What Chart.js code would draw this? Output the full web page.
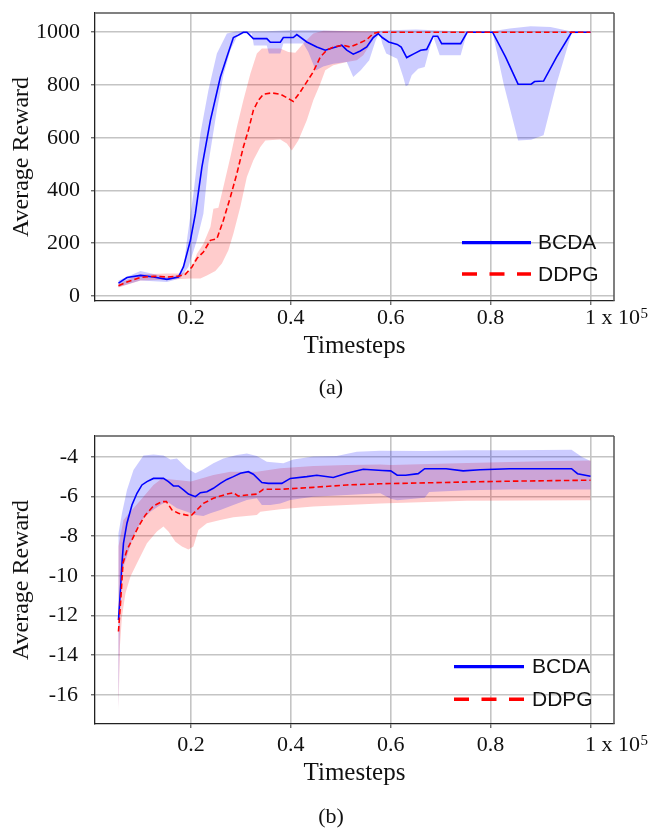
<!DOCTYPE html>
<html>
<head>
<meta charset="utf-8">
<script src="https://cdn.jsdelivr.net/npm/chart.js@4.4.0/dist/chart.umd.min.js"></script>
<style>
  body { margin: 0; background: #fff; width: 666px; height: 832px; position: relative; overflow: hidden; }
  canvas { position: absolute; left: 0; }
  .cap { position: absolute; left: 0; width: 662px; text-align: center; font: 22px "Liberation Serif"; line-height: 24px; color: #111; }
</style>
</head>
<body>
<canvas id="chartA" width="666" height="416" style="top:0"></canvas>
<canvas id="chartB" width="666" height="416" style="top:416px"></canvas>
<div class="cap" style="top:375px">(a)</div>
<div class="cap" style="top:804px">(b)</div>
<script>
// Axis ticks (timesteps in units of 1e5)
const xTicks = [0.2, 0.4, 0.6, 0.8, 1.0];
const yTicksA = [0, 200, 400, 600, 800, 1000];
const yTicksB = [-16, -14, -12, -10, -8, -6, -4];

// (a) BCDA mean and band, [timestep, reward]
const bcdaMeanA = [[0.055,49],[0.072,70],[0.099,78],[0.125,72],[0.152,63],[0.175,72],[0.185,110],[0.199,211],[0.209,312],[0.222,489],[0.239,666],[0.259,830],[0.272,906],[0.285,980],[0.295,989],[0.305,1000],[0.312,1000],[0.325,976],[0.352,976],[0.359,962],[0.379,962],[0.385,980],[0.405,980],[0.412,991],[0.432,963],[0.452,944],[0.469,932],[0.485,941],[0.502,951],[0.512,932],[0.525,917],[0.539,929],[0.552,944],[0.565,980],[0.575,995],[0.583,980],[0.596,963],[0.613,954],[0.621,944],[0.632,904],[0.647,919],[0.66,932],[0.672,935],[0.685,985],[0.694,985],[0.702,957],[0.74,957],[0.753,1000],[0.804,1000],[0.83,906],[0.855,803],[0.881,803],[0.888,813],[0.906,815],[0.932,906],[0.962,1000],[1.0,1000]];
const bcdaUpperA = [[0.055,59],[0.099,95],[0.152,72],[0.175,80],[0.185,100],[0.192,211],[0.205,388],[0.219,616],[0.235,780],[0.252,919],[0.272,995],[0.29,1003],[0.35,1004],[0.4,1008],[0.45,1008],[0.5,1005],[0.55,1003],[0.6,1008],[0.65,1010],[0.7,1007],[0.75,1003],[0.8,1003],[0.838,1014],[0.88,1023],[0.92,1020],[0.962,1003],[1.0,1000]];
const bcdaLowerA = [[0.055,34],[0.099,59],[0.152,53],[0.178,66],[0.195,110],[0.212,211],[0.225,312],[0.235,502],[0.252,704],[0.265,837],[0.279,932],[0.292,982],[0.305,995],[0.322,995],[0.326,950],[0.352,950],[0.356,919],[0.379,919],[0.385,957],[0.425,957],[0.435,925],[0.45,855],[0.465,870],[0.485,881],[0.512,887],[0.525,830],[0.54,856],[0.557,894],[0.57,970],[0.578,1000],[0.583,957],[0.591,919],[0.613,900],[0.625,830],[0.63,795],[0.635,800],[0.642,837],[0.655,862],[0.668,868],[0.677,932],[0.685,985],[0.698,913],[0.74,913],[0.753,1000],[0.804,1000],[0.826,805],[0.855,590],[0.881,592],[0.906,609],[0.932,805],[0.962,995],[1.0,1000]];

// (a) DDPG mean and band
const ddpgMeanA = [[0.055,39],[0.072,53],[0.099,70],[0.125,75],[0.152,72],[0.175,75],[0.189,82],[0.202,110],[0.212,142],[0.225,167],[0.239,211],[0.252,217],[0.265,287],[0.279,375],[0.292,464],[0.305,565],[0.315,628],[0.325,704],[0.335,742],[0.345,765],[0.362,770],[0.379,765],[0.389,755],[0.405,738],[0.419,774],[0.432,812],[0.445,850],[0.459,906],[0.472,932],[0.485,944],[0.505,951],[0.519,944],[0.539,960],[0.552,972],[0.565,995],[0.575,1000],[1.0,1000]];
const ddpgUpperA = [[0.055,47],[0.099,82],[0.152,85],[0.18,85],[0.199,97],[0.212,160],[0.225,198],[0.239,262],[0.245,331],[0.255,335],[0.265,413],[0.279,527],[0.292,641],[0.305,742],[0.319,843],[0.332,919],[0.342,938],[0.379,938],[0.395,925],[0.409,922],[0.425,957],[0.445,995],[0.465,1006],[0.55,1005],[0.58,1000],[1.0,1000]];
const ddpgLowerA = [[0.055,32],[0.099,59],[0.152,62],[0.199,66],[0.219,66],[0.232,78],[0.249,95],[0.262,123],[0.275,173],[0.285,236],[0.299,338],[0.312,451],[0.325,515],[0.339,565],[0.349,590],[0.379,593],[0.392,578],[0.402,552],[0.415,590],[0.432,666],[0.445,742],[0.459,805],[0.469,856],[0.485,875],[0.512,887],[0.532,894],[0.545,913],[0.56,957],[0.572,995],[0.58,1000],[1.0,1000]];

// (b) BCDA mean and band
const bcdaMeanB = [[0.055,-12.22],[0.059,-10.7],[0.062,-9.36],[0.065,-8.35],[0.072,-7.34],[0.082,-6.42],[0.092,-5.83],[0.102,-5.41],[0.112,-5.24],[0.125,-5.08],[0.145,-5.08],[0.155,-5.24],[0.165,-5.46],[0.175,-5.46],[0.185,-5.66],[0.195,-5.87],[0.209,-6.0],[0.219,-5.8],[0.232,-5.75],[0.245,-5.58],[0.259,-5.33],[0.272,-5.13],[0.285,-4.99],[0.299,-4.82],[0.315,-4.74],[0.325,-4.87],[0.342,-5.29],[0.355,-5.33],[0.382,-5.33],[0.399,-5.08],[0.432,-4.99],[0.452,-4.92],[0.485,-5.03],[0.512,-4.82],[0.545,-4.62],[0.583,-4.68],[0.6,-4.7],[0.613,-4.92],[0.63,-4.92],[0.655,-4.84],[0.668,-4.59],[0.711,-4.59],[0.745,-4.7],[0.779,-4.64],[0.838,-4.59],[0.962,-4.59],[0.974,-4.84],[1.0,-4.97]];
const bcdaUpperB = [[0.055,-7.85],[0.062,-6.84],[0.072,-5.66],[0.085,-4.66],[0.105,-3.93],[0.125,-3.87],[0.145,-3.92],[0.159,-4.12],[0.172,-4.07],[0.192,-4.57],[0.209,-4.82],[0.225,-4.62],[0.245,-4.32],[0.265,-4.07],[0.292,-3.9],[0.312,-3.82],[0.332,-3.95],[0.352,-4.24],[0.385,-4.32],[0.405,-4.12],[0.445,-3.98],[0.492,-3.95],[0.532,-3.73],[0.579,-3.68],[0.668,-3.7],[0.753,-3.66],[0.838,-3.66],[0.962,-3.63],[0.983,-4.0],[1.0,-4.2]];
const bcdaLowerB = [[0.055,-16.7],[0.0575,-13.0],[0.059,-10.0],[0.072,-9.0],[0.085,-8.0],[0.102,-7.18],[0.119,-6.76],[0.139,-6.42],[0.152,-6.25],[0.172,-6.59],[0.192,-6.76],[0.209,-6.92],[0.225,-6.97],[0.239,-6.84],[0.259,-6.67],[0.285,-6.42],[0.312,-6.17],[0.332,-6.08],[0.342,-6.42],[0.359,-6.42],[0.379,-6.34],[0.399,-6.17],[0.445,-6.0],[0.512,-5.92],[0.579,-5.83],[0.6,-6.1],[0.613,-6.18],[0.668,-6.05],[0.677,-5.76],[0.753,-5.68],[0.838,-5.64],[1.0,-5.64]];

// (b) DDPG mean and band
const ddpgMeanB = [[0.055,-12.8],[0.06,-11.04],[0.064,-9.36],[0.072,-8.69],[0.082,-8.18],[0.095,-7.51],[0.109,-6.92],[0.125,-6.47],[0.142,-6.25],[0.151,-6.25],[0.162,-6.67],[0.175,-6.84],[0.189,-6.92],[0.2,-6.97],[0.212,-6.67],[0.225,-6.34],[0.245,-6.08],[0.272,-5.87],[0.285,-5.8],[0.295,-5.97],[0.312,-5.92],[0.332,-5.87],[0.345,-5.63],[0.379,-5.63],[0.445,-5.53],[0.512,-5.41],[0.579,-5.35],[0.6,-5.34],[0.753,-5.26],[0.838,-5.22],[1.0,-5.17]];
const ddpgUpperB = [[0.055,-8.5],[0.065,-7.18],[0.085,-6.59],[0.105,-6.0],[0.125,-5.41],[0.142,-5.08],[0.172,-5.16],[0.2,-5.24],[0.245,-4.91],[0.279,-4.74],[0.332,-4.74],[0.379,-4.57],[0.445,-4.45],[0.512,-4.4],[0.579,-4.38],[0.6,-4.4],[0.753,-4.3],[0.923,-4.2],[1.0,-4.17]];
const ddpgLowerB = [[0.055,-16.8],[0.058,-13.5],[0.062,-12.05],[0.069,-10.87],[0.079,-10.03],[0.092,-9.36],[0.112,-8.35],[0.132,-7.76],[0.145,-7.51],[0.155,-7.76],[0.169,-8.27],[0.182,-8.52],[0.195,-8.66],[0.205,-8.52],[0.215,-7.68],[0.232,-7.34],[0.259,-7.18],[0.285,-7.04],[0.332,-6.92],[0.339,-6.76],[0.379,-6.64],[0.445,-6.5],[0.512,-6.42],[0.579,-6.34],[0.753,-6.21],[1.0,-6.18]];

const SERIF = '"Liberation Serif", "Times New Roman", serif';
const SANS = '"Liberation Sans", Arial, sans-serif';

function toPts(pairs) {
  return pairs.map(p => ({ x: p[0], y: p[1] }));
}

// closed outline: upper edge left to right, lower edge back
function bandShape(upper, lower) {
  return toPts(upper).concat(toPts(lower).reverse());
}

// top and right sides of the frame
const frameLines = {
  id: 'frameLines',
  afterDatasetsDraw(chart) {
    const { ctx, chartArea: a } = chart;
    ctx.save();
    ctx.strokeStyle = '#808080';
    ctx.lineWidth = 2;
    ctx.beginPath(); ctx.moveTo(a.left, a.top); ctx.lineTo(a.right, a.top); ctx.stroke();
    ctx.strokeStyle = '#555';
    ctx.lineWidth = 1.5;
    ctx.beginPath(); ctx.moveTo(a.right, a.top); ctx.lineTo(a.right, a.bottom); ctx.stroke();
    ctx.restore();
  }
};

// legend drawn inside the plot, no box
const innerLegend = {
  id: 'innerLegend',
  afterDraw(chart, args, opts) {
    const { ctx, chartArea: a } = chart;
    const rows = [
      { text: 'BCDA', color: '#0000ff', dash: [], width: 3.3 },
      { text: 'DDPG', color: '#ff0000', dash: [15, 12.5], width: 3.6 }
    ];
    ctx.save();
    ctx.font = '21px ' + SANS;
    ctx.textBaseline = 'middle';
    ctx.textAlign = 'left';
    rows.forEach((r, i) => {
      const y = a.bottom - opts.rows[i];
      ctx.strokeStyle = r.color;
      ctx.lineWidth = r.width;
      ctx.setLineDash(r.dash);
      ctx.beginPath();
      ctx.moveTo(a.right - opts.x0, y);
      ctx.lineTo(a.right - opts.x1, y);
      ctx.stroke();
      ctx.fillStyle = '#111';
      ctx.fillText(r.text, a.right - opts.tx, y + 1);
    });
    ctx.restore();
  }
};

// "x 10^5" after the last tick label
const xExponent = {
  id: 'xExponent',
  afterDraw(chart, args, opts) {
    const s = chart.scales.x;
    const ctx = chart.ctx;
    const px = s.getPixelForValue(1);
    const y = s.top + 4 + opts.pad + 22 * 1.2 / 2;
    ctx.save();
    ctx.fillStyle = '#111';
    ctx.textBaseline = 'middle';
    ctx.textAlign = 'left';
    ctx.font = '22px ' + SERIF;
    const x0 = px + ctx.measureText('1').width / 2;
    ctx.fillText(' x 10', x0, y);
    const x1 = x0 + ctx.measureText(' x 10').width + 0.5;
    ctx.font = '15px ' + SERIF;
    ctx.fillText('5', x1, y - 4);
    ctx.restore();
  }
};

function makeChart(id, cfg) {
  return new Chart(document.getElementById(id), {
    type: 'line',
    data: {
      datasets: [
        { data: toPts(cfg.ddpgMean), borderColor: '#ff0000', borderWidth: 1.6, borderDash: [5.5, 3], pointRadius: 0, fill: false },
        { data: toPts(cfg.bcdaMean), borderColor: '#0000ff', borderWidth: 1.6, pointRadius: 0, fill: false },
        { data: bandShape(cfg.bcdaUpper, cfg.bcdaLower), backgroundColor: 'rgba(0,0,255,0.2)', borderWidth: 0, pointRadius: 0, fill: 'shape' },
        { data: bandShape(cfg.ddpgUpper, cfg.ddpgLower), backgroundColor: 'rgba(255,0,0,0.2)', borderWidth: 0, pointRadius: 0, fill: 'shape' }
      ]
    },
    plugins: [frameLines, innerLegend, xExponent],
    options: {
      responsive: false,
      animation: false,
      events: [],
      layout: { padding: { top: cfg.padTop, right: 52, bottom: cfg.padBottom, left: 0 } },
      plugins: {
        legend: { display: false },
        tooltip: { enabled: false },
        innerLegend: cfg.legend,
        xExponent: { pad: cfg.xPad }
      },
      scales: {
        x: {
          type: 'linear',
          min: 0.008,
          max: 1.047,
          afterBuildTicks: s => { s.ticks = xTicks.map(v => ({ value: v })); },
          afterFit: s => { s.height = 70; s.paddingLeft = 0; s.paddingRight = 0; },
          ticks: {
            autoSkip: false, maxRotation: 0, padding: cfg.xPad, color: '#111',
            font: { family: SERIF, size: 22 },
            callback: v => (v === 1 ? '1' : v.toFixed(1))
          },
          grid: { color: '#c4c4c4', lineWidth: 1.6, tickLength: 4, tickColor: '#333', tickWidth: 1 },
          border: { color: '#222', width: 1.3 },
          title: { display: true, text: 'Timesteps', color: '#111', font: { family: SERIF, size: 25 }, padding: { top: 0, bottom: cfg.xTitlePad } }
        },
        y: {
          type: 'linear',
          min: cfg.yMin,
          max: cfg.yMax,
          afterBuildTicks: s => { s.ticks = cfg.yTicks.map(v => ({ value: v })); },
          afterFit: s => { s.width = 95; s.paddingTop = 0; s.paddingBottom = 0; },
          ticks: {
            autoSkip: false, padding: cfg.yPad, color: '#111',
            font: { family: SERIF, size: 22 },
            callback: v => String(v)
          },
          grid: { color: '#c4c4c4', lineWidth: 1.6, tickLength: 4, tickColor: '#333', tickWidth: 1 },
          border: { color: '#222', width: 1.3 },
          title: { display: true, text: 'Average Reward', color: '#111', font: { family: SERIF, size: 24 }, padding: { top: 7, bottom: 0 } }
        }
      }
    }
  });
}

makeChart('chartA', {
  bcdaMean: bcdaMeanA, bcdaUpper: bcdaUpperA, bcdaLower: bcdaLowerA,
  ddpgMean: ddpgMeanA, ddpgUpper: ddpgUpperA, ddpgLower: ddpgLowerA,
  yTicks: yTicksA, yMin: -19, yMax: 1073,
  padTop: 13, padBottom: 45, xPad: 0, yPad: 11, xTitlePad: 9.5,
  legend: { x0: 152, x1: 83, tx: 76, rows: [58.3, 27] }
});

makeChart('chartB', {
  bcdaMean: bcdaMeanB, bcdaUpper: bcdaUpperB, bcdaLower: bcdaLowerB,
  ddpgMean: ddpgMeanB, ddpgUpper: ddpgUpperB, ddpgLower: ddpgLowerB,
  yTicks: yTicksB, yMin: -17.47, yMax: -2.94,
  padTop: 20, padBottom: 38, xPad: 4, yPad: 13, xTitlePad: 5.5,
  legend: { x0: 160, x1: 90, tx: 82, rows: [57.3, 24.7] }
});
</script>
</body>
</html>
